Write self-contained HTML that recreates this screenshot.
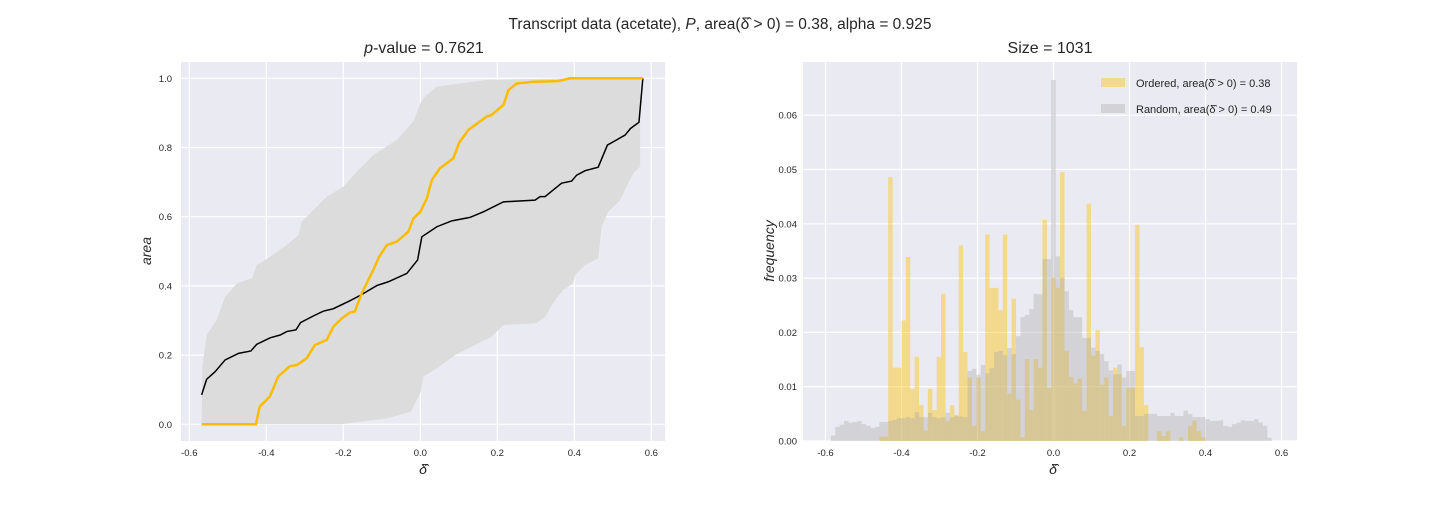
<!DOCTYPE html>
<html><head><meta charset="utf-8"><style>
body{margin:0;background:#fff;font-family:"Liberation Sans","DejaVu Sans",sans-serif}
svg text{font-family:"Liberation Sans","DejaVu Sans",sans-serif;fill:#262626}
</style></head><body>
<svg id="fig" width="1440" height="504" viewBox="0 0 1440 504" xmlns="http://www.w3.org/2000/svg">
<text x="720" y="29" font-size="15.5" text-anchor="middle">Transcript data (acetate), <tspan font-style="italic">P</tspan>, area(δ̂ &gt; 0) = 0.38, alpha = 0.925</text>
<g id="left"></g>
<g id="right"></g>
</svg>
<script>
// ---------- left chart data ----------
const meanX=[-0.568,-0.555,-0.533,-0.507,-0.472,-0.440,-0.425,-0.390,-0.364,-0.347,-0.323,-0.311,-0.278,-0.252,-0.226,-0.183,-0.157,-0.113,-0.083,-0.035,-0.007,0.004,0.043,0.082,0.129,0.164,0.216,0.298,0.311,0.324,0.367,0.393,0.406,0.428,0.462,0.486,0.510,0.532,0.546,0.568,0.578];
const meanY=[0.085,0.130,0.152,0.186,0.205,0.212,0.231,0.250,0.258,0.268,0.273,0.294,0.313,0.327,0.334,0.357,0.372,0.401,0.412,0.436,0.475,0.542,0.571,0.588,0.598,0.614,0.643,0.648,0.658,0.658,0.697,0.703,0.720,0.733,0.743,0.807,0.822,0.836,0.855,0.873,1.0];
const obsX=[-0.568,-0.427,-0.417,-0.391,-0.369,-0.339,-0.321,-0.295,-0.274,-0.243,-0.226,-0.204,-0.183,-0.170,-0.152,-0.122,-0.109,-0.087,-0.061,-0.031,-0.018,0.0,0.017,0.030,0.051,0.086,0.101,0.125,0.151,0.172,0.185,0.216,0.229,0.250,0.294,0.358,0.389,0.578];
const obsY=[0,0,0.051,0.080,0.138,0.168,0.171,0.191,0.229,0.244,0.282,0.306,0.323,0.326,0.379,0.446,0.480,0.518,0.528,0.557,0.595,0.614,0.653,0.706,0.740,0.769,0.814,0.851,0.872,0.889,0.894,0.923,0.966,0.985,0.990,0.992,1.0,1.0];
const upX=[-0.568,-0.566,-0.555,-0.529,-0.507,-0.476,-0.437,-0.425,-0.390,-0.347,-0.316,-0.308,-0.278,-0.243,-0.200,-0.165,-0.122,-0.061,-0.018,0.0,0.012,0.043,0.172,0.389,0.571];
const upY=[0.0,0.166,0.258,0.301,0.369,0.407,0.422,0.460,0.484,0.518,0.547,0.586,0.619,0.658,0.687,0.730,0.778,0.822,0.875,0.928,0.947,0.976,0.995,1.0,1.0];
const loX=[0.571,0.553,0.540,0.519,0.488,0.471,0.462,0.428,0.402,0.397,0.371,0.350,0.324,0.302,0.216,0.185,0.159,0.090,0.043,0.008,0.0,-0.025,-0.087,-0.175,-0.208,-0.568];
const loY=[0.745,0.725,0.697,0.648,0.614,0.571,0.480,0.460,0.431,0.407,0.388,0.359,0.311,0.292,0.287,0.253,0.239,0.200,0.162,0.138,0.090,0.036,0.017,0.005,0,0];
const leftXTicks=[-0.6,-0.4,-0.2,0.0,0.2,0.4,0.6];
const leftYTicks=[0.0,0.2,0.4,0.6,0.8,1.0];
// ---------- right chart data ----------
const binStart=-0.5858, binWidth=0.0116;
const randomFreq=[0.001,0.0026,0.003,0.0037,0.0034,0.0035,0.0037,0.0031,0.0028,0.0024,0.0026,0.0035,0.0035,0.0037,0.0039,0.0042,0.0042,0.0044,0.0042,0.0053,0.0044,0.0044,0.0052,0.0044,0.0042,0.0044,0.0052,0.0044,0.0046,0.0045,0.0044,0.0129,0.0133,0.0122,0.014,0.0125,0.0134,0.0164,0.0166,0.0158,0.0171,0.016,0.0193,0.0228,0.0232,0.0243,0.0271,0.027,0.0335,0.0335,0.0665,0.034,0.0301,0.0276,0.0241,0.0228,0.0228,0.019,0.019,0.0172,0.0166,0.016,0.0147,0.013,0.0123,0.0141,0.0117,0.0129,0.0129,0.0046,0.0046,0.005,0.005,0.005,0.0046,0.0046,0.0046,0.0052,0.0046,0.0046,0.0056,0.005,0.0044,0.0044,0.0044,0.004,0.0037,0.0037,0.0038,0.0028,0.0026,0.0031,0.0034,0.0038,0.0037,0.0037,0.004,0.0034,0.0028,0.0006];
const orderedFreq=[0,0,0,0,0,0,0,0,0,0,0,0.0008,0.0008,0.0486,0.0135,0.0135,0.0222,0.0339,0.0096,0.0155,0.0066,0.0019,0.0096,0.0057,0.0155,0.0271,0.0037,0.0066,0.0048,0.036,0.0164,0.0117,0.0028,0.0117,0.0018,0.038,0.0282,0.0282,0.0241,0.038,0.0087,0.0262,0.0076,0.0007,0.0151,0.0057,0.0151,0.0135,0.0407,0.0098,0.0301,0.0282,0.0495,0.0166,0.0118,0.0106,0.0115,0.0055,0.0437,0.0157,0.0204,0.0104,0.0117,0.0046,0.0135,0.0123,0.0028,0.0098,0.0098,0.0398,0.0173,0.0066,0,0,0.0018,0.0009,0.0018,0,0,0.0007,0,0.0028,0.0037,0.0018,0.0007,0,0,0,0,0,0,0,0,0,0,0,0,0,0,0];
const rightXTicks=[-0.6,-0.4,-0.2,0.0,0.2,0.4,0.6];
const rightYTicks=[0.00,0.01,0.02,0.03,0.04,0.05,0.06];

const NS="http://www.w3.org/2000/svg";
function mk(parent,tag,attrs){const e=document.createElementNS(NS,tag);for(const k in attrs)e.setAttribute(k,attrs[k]);parent.appendChild(e);return e;}

// ---------- left ----------
const L=document.getElementById('left');
const lx=v=>420.3+v*385, ly=v=>424.3-v*346;
let bg=mk(L,'rect',{x:181,y:62,width:484,height:379,fill:'#eaeaf2'});

leftXTicks.forEach(t=>{let g=mk(L,'line',{x1:lx(t),x2:lx(t),y1:62,y2:441,stroke:'#fff','stroke-width':1.2});

let tx=mk(L,'text',{x:lx(t),y:456,'font-size':9.5,'text-anchor':'middle'});tx.textContent=t.toFixed(1);
});
leftYTicks.forEach(t=>{let g=mk(L,'line',{x1:181,x2:665,y1:ly(t),y2:ly(t),stroke:'#fff','stroke-width':1.2});

let tx=mk(L,'text',{x:172,y:ly(t)+3.5,'font-size':9.5,'text-anchor':'end'});tx.textContent=t.toFixed(1);
});
let bandPts=upX.map((x,i)=>lx(x)+','+ly(upY[i])).concat(loX.map((x,i)=>lx(x)+','+ly(loY[i])));
let band=mk(L,'polygon',{points:bandPts.join(' '),fill:'#dcdcdc'});

let ml=mk(L,'polyline',{points:meanX.map((x,i)=>lx(x)+','+ly(meanY[i])).join(' '),fill:'none',stroke:'#000','stroke-width':1.5});

let ol=mk(L,'polyline',{points:obsX.map((x,i)=>lx(x)+','+ly(obsY[i])).join(' '),fill:'none',stroke:'#fbbc00','stroke-width':2.5});

let lt=mk(L,'text',{x:424,y:53,'font-size':16,'text-anchor':'middle'});lt.innerHTML='<tspan font-style="italic">p</tspan>-value = 0.7621';

let lyl=mk(L,'text',{x:0,y:0,'font-size':14,'text-anchor':'middle','font-style':'italic',transform:'translate(151,251) rotate(-90)'});lyl.textContent='area';

let lxl=mk(L,'text',{x:423,y:474,'font-size':14,'text-anchor':'middle','font-style':'italic'});lxl.textContent='δ̂';


// ---------- right ----------
const R=document.getElementById('right');
const rx=v=>1053.5+v*380, ry=v=>441-v*5430;
let bg2=mk(R,'rect',{x:803,y:62,width:494,height:379,fill:'#eaeaf2'});

rightXTicks.forEach(t=>{let g=mk(R,'line',{x1:rx(t),x2:rx(t),y1:62,y2:441,stroke:'#fff','stroke-width':1.2});

let tx=mk(R,'text',{x:rx(t),y:456,'font-size':9.5,'text-anchor':'middle'});tx.textContent=t.toFixed(1);
});
rightYTicks.forEach(t=>{let g=mk(R,'line',{x1:803,x2:1297,y1:ry(t),y2:ry(t),stroke:'#fff','stroke-width':1.2});

let tx=mk(R,'text',{x:797,y:ry(t)+3.5,'font-size':9.5,'text-anchor':'end'});tx.textContent=t.toFixed(2);
});
orderedFreq.forEach((v,i)=>{if(v<=0)return;const x0=rx(binStart+i*binWidth),x1=rx(binStart+(i+1)*binWidth);
let b=mk(R,'rect',{x:x0,y:ry(v),width:x1-x0,height:ry(0)-ry(v),fill:'rgba(255,192,0,0.42)'});
});
randomFreq.forEach((v,i)=>{if(v<=0)return;const x0=rx(binStart+i*binWidth),x1=rx(binStart+(i+1)*binWidth);
let b=mk(R,'rect',{x:x0,y:ry(v),width:x1-x0,height:ry(0)-ry(v),fill:'rgba(170,170,170,0.38)'});
});
let rt=mk(R,'text',{x:1050,y:53,'font-size':16,'text-anchor':'middle'});rt.textContent='Size = 1031';

let ryl=mk(R,'text',{x:0,y:0,'font-size':14,'text-anchor':'middle','font-style':'italic',transform:'translate(774,251) rotate(-90)'});ryl.textContent='frequency';

let rxl=mk(R,'text',{x:1053,y:474,'font-size':14,'text-anchor':'middle','font-style':'italic'});rxl.textContent='δ̂';

// legend
let lp1=mk(R,'rect',{x:1101,y:78,width:24,height:9,fill:'rgba(255,192,0,0.42)'});

let lt1=mk(R,'text',{x:1136,y:87,'font-size':11});lt1.textContent='Ordered, area(δ̂ > 0) = 0.38';

let lp2=mk(R,'rect',{x:1101,y:104,width:24,height:9,fill:'rgba(170,170,170,0.38)'});

let lt2=mk(R,'text',{x:1136,y:113,'font-size':11});lt2.textContent='Random, area(δ̂ > 0) = 0.49';

</script>
</body></html>
